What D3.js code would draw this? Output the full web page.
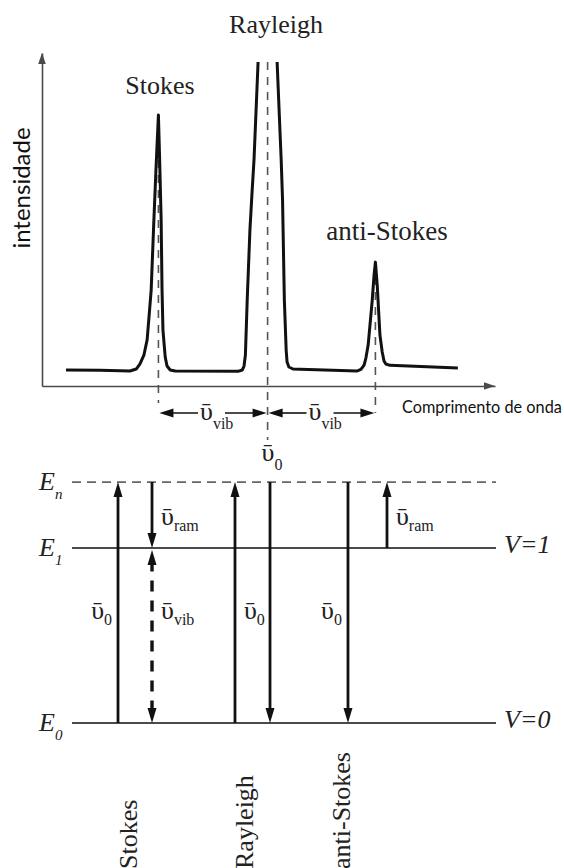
<!DOCTYPE html>
<html>
<head>
<meta charset="utf-8">
<script src="https://cdn.jsdelivr.net/npm/d3@7"></script>
<style>
  html, body { margin: 0; padding: 0; background: #fff; }
  svg { display: block; }
</style>
</head>
<body>
<svg id="chart" width="564" height="868"></svg>
<script>
// ---------- Raman spectrum (arbitrary units) ----------
const wavelength = [5.3, 12.8, 19.4, 20.8, 21.6, 22.5, 23.2, 23.6, 24.1, 24.7, 25.2, 25.7,
  26.0, 26.3, 26.5, 26.7, 27.2, 27.6, 28.3, 29.4, 43.3, 44.2, 44.6, 44.9, 45.3, 45.9, 46.4,
  46.8, 47.7, 49.8, 51.9, 52.8, 53.1, 53.3, 53.5, 53.9, 54.1, 54.5, 55.4, 57.0, 69.5, 70.4,
  71.1, 71.5, 72.0, 72.4, 72.9, 73.3, 73.6, 74.0, 74.3, 74.6, 75.1, 75.5, 75.9, 76.8, 91.8];
const intensity = [4.8, 4.7, 4.5, 5.1, 6.6, 9.3, 13.8, 20.4, 28.8, 49.9, 66.4, 81.4,
  66.4, 49.9, 28.8, 16.8, 8.7, 6.0, 4.8, 4.5, 4.4, 4.8, 6.0, 9.3, 25.8, 46.9, 58.9,
  67.9, 97.3, 167.6, 97.3, 67.9, 55.9, 40.8, 25.8, 10.8, 7.2, 5.7, 5.1, 5.0, 4.5, 5.0,
  6.3, 8.4, 12.3, 18.3, 25.8, 33.3, 37.2, 30.3, 22.8, 15.3, 10.2, 7.5, 6.6, 6.2, 5.4];
const peakNames = ["Stokes", "Rayleigh", "anti-Stokes"];
const peakWavelength = [25.7, 49.8, 73.6];
const peakIntensity = [81.4, 167.6, 37.2];
const wavelengthMax = 100;
const intensityMax = 100;
const visibleIntensity = 97.3;   // the Rayleigh line runs off the top of the frame

// ---------- Energy level diagram ----------
const levelSubs = ["0", "1", "n"];
const levelEnergy = [0, 1, 1.377];
const levelStates = ["V=0", "V=1", ""];
const transCol = [10.85, 18.87, 18.87, 38.44, 46.7, 65.09, 74.29];
const transFrom = [0, 2, 1, 0, 2, 2, 1];
const transTo = [2, 1, 0, 2, 0, 0, 2];
const transDashed = [false, false, true, false, false, false, false];
const transSub = ["0", "ram", "vib", "0", "", "0", "ram"];
const transLabelSide = ["left", "right", "right", "right", "", "left", "right"];
const transLabelEnergy = [0.594, 1.131, 0.594, 0.594, 0, 0.594, 1.131];
const processNames = ["Stokes", "Rayleigh", "anti-Stokes"];
const processCol = [15.3, 42.7, 65.6];

// ---------- setup ----------
const svg = d3.select("#chart");
const SERIF = "'Liberation Serif', 'Times New Roman', 'DejaVu Serif', serif";
const SANS = "Lato, 'Open Sans', sans-serif";
const INK = "#111";
const GREY = "#4a4a4a";

const sx = d3.scaleLinear().domain([0, wavelengthMax]).range([42, 495]);
const sy = d3.scaleLinear().domain([0, intensityMax]).range([386, 53]);

function head(g, x, y, angle, len, hw, fill) {
  const c = Math.cos(angle), s = Math.sin(angle);
  const bx = x - c * len, by = y - s * len;
  const pts = [[x, y], [bx - s * hw, by + c * hw], [bx + s * hw, by - c * hw]];
  g.append("path").attr("d", "M" + pts.map(p => p.join(",")).join("L") + "Z")
    .attr("fill", fill || INK);
}

function nuLabel(g, x, y, sub, anchor, dy, size, subSize) {
  const t = g.append("text")
    .attr("x", x).attr("y", y)
    .attr("text-anchor", anchor)
    .attr("font-family", SERIF)
    .attr("font-size", size || 26)
    .attr("fill", "#222");
  t.append("tspan").text("ῡ");
  t.append("tspan").attr("font-size", subSize || 16).attr("dy", dy).text(sub);
  return t;
}

// ---------- spectrum panel ----------
const specPanel = svg.append("g");

specPanel.append("defs").append("clipPath").attr("id", "frame")
  .append("rect").attr("x", 0).attr("width", 564)
  .attr("y", sy(visibleIntensity)).attr("height", sy(0) - sy(visibleIntensity));

// dashed markers through each peak
const markerEnd = [17, 54, 27];
peakWavelength.forEach((w, i) => {
  specPanel.append("line")
    .attr("x1", sx(w)).attr("x2", sx(w))
    .attr("y1", sy(Math.min(peakIntensity[i], visibleIntensity)))
    .attr("y2", sy(0) + markerEnd[i])
    .attr("stroke", "#555").attr("stroke-width", 1.6)
    .attr("stroke-dasharray", "8,7");
});

// axes
const xAxisG = specPanel.append("g").attr("transform", `translate(0,${sy(0)})`)
  .call(d3.axisBottom(sx).tickValues([]).tickSizeOuter(0));
const yAxisG = specPanel.append("g").attr("transform", `translate(${sx(0)},0)`)
  .call(d3.axisLeft(sy).tickValues([]).tickSizeOuter(0));
[xAxisG, yAxisG].forEach(a => a.select(".domain").attr("stroke", GREY).attr("stroke-width", 1.6));
head(specPanel, sx(wavelengthMax), sy(0), 0, 11, 3.8, GREY);
head(specPanel, sx(0), sy(intensityMax), -Math.PI / 2, 11, 3.8, GREY);

// spectrum trace
const line = d3.line().x((d, i) => sx(wavelength[i])).y((d, i) => sy(intensity[i]));
specPanel.append("path")
  .datum(wavelength)
  .attr("d", line)
  .attr("clip-path", "url(#frame)")
  .attr("fill", "none").attr("stroke", INK)
  .attr("stroke-width", 3).attr("stroke-linejoin", "round").attr("stroke-linecap", "butt");

// peak names
const peakLabelPos = [[160, 94], [276, 33], [387, 240]];
peakNames.forEach((n, i) => {
  specPanel.append("text").attr("x", peakLabelPos[i][0]).attr("y", peakLabelPos[i][1])
    .attr("text-anchor", "middle").attr("font-family", SERIF).attr("font-size", i === 2 ? 27 : 26)
    .attr("fill", "#222").text(n);
});

// axis titles
specPanel.append("text")
  .attr("transform", `translate(30,188) rotate(-90)`)
  .attr("text-anchor", "middle").attr("font-family", SANS).attr("font-size", 24)
  .attr("fill", "#111").text("intensidade");
specPanel.append("text").attr("x", 402).attr("y", 413)
  .attr("font-family", SANS).attr("font-size", 16.3).attr("fill", "#111")
  .text("Comprimento de onda");

// vibrational shift arrows between neighbouring peaks
const rowY = sy(0) + 27;
for (let i = 0; i < 2; i++) {
  const a = sx(peakWavelength[i]), b = sx(peakWavelength[i + 1]);
  const mid = (a + b) / 2;
  specPanel.append("line").attr("x1", a + 8).attr("x2", mid - 15).attr("y1", rowY).attr("y2", rowY)
    .attr("stroke", INK).attr("stroke-width", 1.6);
  specPanel.append("line").attr("x1", mid + 12).attr("x2", b - 8).attr("y1", rowY).attr("y2", rowY)
    .attr("stroke", INK).attr("stroke-width", 1.6);
  head(specPanel, a + 1, rowY, Math.PI, 14, 4.4);
  head(specPanel, b - 1, rowY, 0, 14, 4.4);
  nuLabel(specPanel, mid - 13, rowY + 7, "vib", "start", 9);
}
nuLabel(specPanel, sx(peakWavelength[1]) - 6, 461, "0", "start", 9);

// ---------- energy level panel ----------
const levelPanel = svg.append("g");
const cx = d3.scaleLinear().domain([0, 100]).range([72, 496]);
const ey = d3.scaleLinear().domain([0, 1]).range([723, 548]);

levelEnergy.forEach((e, i) => {
  levelPanel.append("line")
    .attr("x1", cx(0)).attr("x2", cx(100)).attr("y1", ey(e)).attr("y2", ey(e))
    .attr("stroke", i === 2 ? "#666" : GREY).attr("stroke-width", 1.8)
    .attr("stroke-dasharray", i === 2 ? "9,6" : null);
  const t = levelPanel.append("text").attr("x", 39).attr("y", ey(e) + 8)
    .attr("font-family", SERIF).attr("font-style", "italic").attr("font-size", 26)
    .attr("fill", "#222");
  t.append("tspan").text("E");
  t.append("tspan").attr("font-size", 15).attr("dy", 9).text(levelSubs[i]);
  if (levelStates[i]) {
    levelPanel.append("text").attr("x", 504).attr("y", ey(e) + 5)
      .attr("font-family", SERIF).attr("font-style", "italic").attr("font-size", 26)
      .attr("fill", "#222").text(levelStates[i]);
  }
});

transCol.forEach((c, i) => {
  const x = cx(c);
  const y1 = ey(levelEnergy[transFrom[i]]);
  const y2 = ey(levelEnergy[transTo[i]]);
  const dir = y2 > y1 ? 1 : -1;
  const len = 15, hw = 4.5;
  const startInset = transDashed[i] ? len * 0.7 + 2 : 0;
  levelPanel.append("line")
    .attr("x1", x).attr("x2", x)
    .attr("y1", y1 + dir * startInset).attr("y2", y2 - dir * len * 0.7)
    .attr("stroke", INK).attr("stroke-width", transDashed[i] ? 3.4 : 2.8)
    .attr("stroke-dasharray", transDashed[i] ? "11,9" : null);
  head(levelPanel, x, y2, dir > 0 ? Math.PI / 2 : -Math.PI / 2, len, hw);
  if (transDashed[i]) head(levelPanel, x, y1 + dir * 2, dir > 0 ? -Math.PI / 2 : Math.PI / 2, len, hw);
  if (transSub[i]) {
    const ly = ey(transLabelEnergy[i]);
    if (transLabelSide[i] === "left") nuLabel(levelPanel, x - 6, ly, transSub[i], "end", 6);
    else nuLabel(levelPanel, x + 9, ly, transSub[i], "start", 6);
  }
});

processNames.forEach((n, i) => {
  levelPanel.append("text")
    .attr("transform", `translate(${cx(processCol[i])},869) rotate(-90)`)
    .attr("font-family", SERIF).attr("font-size", 26).attr("fill", "#222")
    .text(n);
});
</script>
</body>
</html>
